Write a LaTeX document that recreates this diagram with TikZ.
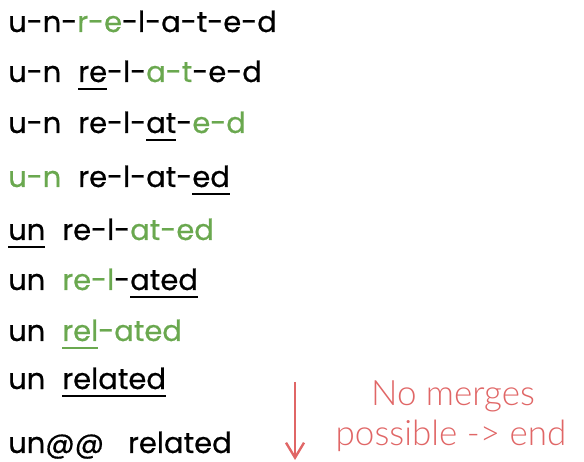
\documentclass[tikz,border=0pt]{standalone}
\usepackage{fontspec}
\usetikzlibrary{arrows.meta}
\setmainfont{Poppins}[FakeBold=0.5]
\newfontfamily\notefont{Lato Light}
\definecolor{grn}{HTML}{6AA84F}
\definecolor{nred}{HTML}{E06666}
\newcommand\G[1]{\textcolor{grn}{#1}}
\newcommand\U[1]{\setbox0=\hbox{#1}\rlap{\rule[-8.5pt]{\wd0}{2.8pt}}\box0}
\newcommand\gap{\hspace{17pt}}
\begin{document}
\begin{tikzpicture}[x=1pt,y=-1pt,
  wline/.style={anchor=base west, inner sep=0pt, font=\fontsize{29}{34}\selectfont},
  note/.style={anchor=base, inner sep=0pt, text=nred, font=\notefont\fontsize{35}{42}\selectfont},
  arr/.style={draw=nred, line width=2.4pt, -{Straight Barb[length=15pt,width=18pt]}}]
\useasboundingbox (0,0) rectangle (584,462);
\node[wline] (l1) at (8,32)  {u-n-\G{r-e}-l-a-t-e-d};
\node[wline] (l2) at (8,82)  {u-n\gap\U{re}-l-\G{a-t}-e-d};
\node[wline] (l3) at (8,133) {u-n\gap re-l-\U{at}-\G{e-d}};
\node[wline] (l4) at (8,187) {\G{u-n}\gap re-l-at-\U{ed}};
\node[wline] (l5) at (8,240) {\U{un}\gap re-l-\G{at-ed}};
\node[wline] (l6) at (8,290) {un\gap\G{re-l}-\U{ated}};
\node[wline] (l7) at (8,341) {un\gap\G{\U{rel}-ated}};
\node[wline] (l8) at (8,389) {un\gap\U{related}};
\node[wline] (l9) at (8,453) {un@@\hspace{24pt}related};
\node[note] (n1) at (453,406) {No merges};
\node[note] (n2) at (451,445) {possible -> end};
\coordinate (a1) at (295,382);
\coordinate (a2) at (295,460);
\draw[arr] (a1) -- (a2);
\end{tikzpicture}
\end{document}
